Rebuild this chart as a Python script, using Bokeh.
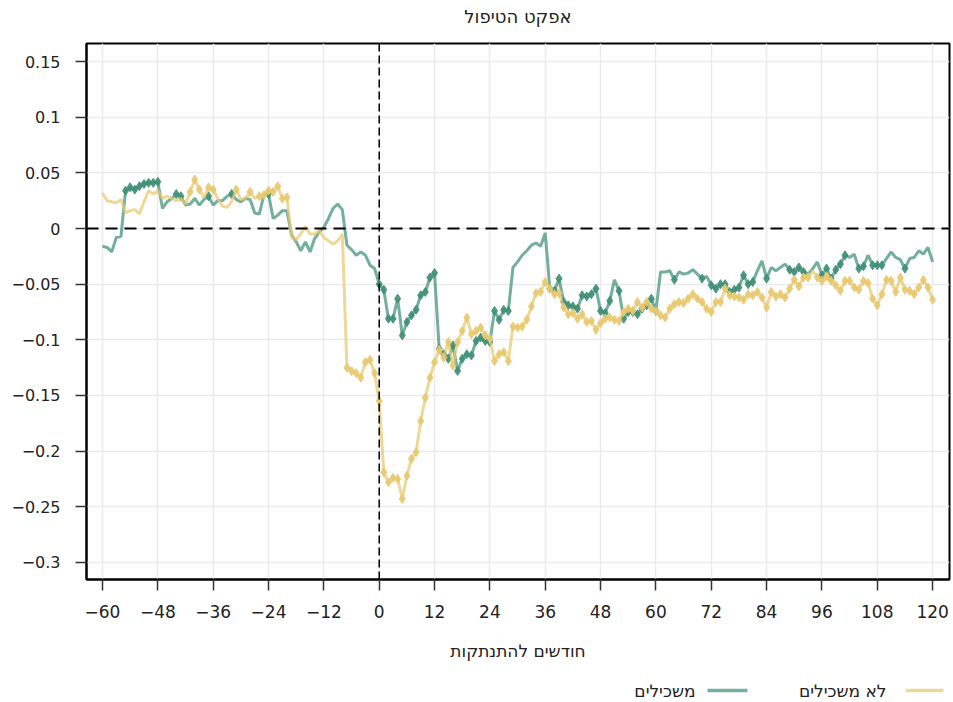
from bokeh.plotting import figure
from bokeh.models import Range1d, FixedTicker, Span, Label
from bokeh.layouts import column
from bokeh.embed import file_html
from bokeh.resources import INLINE

# ---------------- data ----------------
months = list(range(-60, 121))

# משכילים (educated)
educated = [
    -0.016, -0.017, -0.021, -0.008, -0.007, 0.034, 0.037, 0.035, 0.038, 0.040,   # -60..-51
    0.041, 0.041, 0.042, 0.018, 0.024, 0.027, 0.031, 0.029, 0.021, 0.022,        # -50..-41
    0.027, 0.021, 0.026, 0.029, 0.021, 0.025, 0.025, 0.029, 0.031, 0.026,        # -40..-31
    0.024, 0.027, 0.026, 0.014, 0.013, 0.030, 0.031, 0.009, 0.012, 0.016,        # -30..-21
    0.016, -0.006, -0.012, -0.020, -0.012, -0.021, -0.009, -0.003, 0.001, 0.009, # -20..-11
    0.018, 0.022, 0.017, -0.015, -0.019, -0.024, -0.021, -0.024, -0.033, -0.036, # -10..-1
    -0.050, -0.055, -0.081, -0.081, -0.063, -0.096, -0.084, -0.078, -0.073, -0.060,  # 0..9
    -0.057, -0.044, -0.040, -0.108, -0.113, -0.117, -0.105, -0.128, -0.117, -0.113,  # 10..19
    -0.114, -0.101, -0.098, -0.101, -0.102, -0.074, -0.082, -0.073, -0.074, -0.035,  # 20..29
    -0.030, -0.024, -0.020, -0.015, -0.013, -0.016, -0.004, -0.054, -0.056, -0.045,  # 30..39
    -0.066, -0.069, -0.070, -0.072, -0.060, -0.061, -0.059, -0.054, -0.074, -0.076,  # 40..49
    -0.065, -0.046, -0.056, -0.081, -0.075, -0.075, -0.077, -0.072, -0.069, -0.063,  # 50..59
    -0.074, -0.039, -0.039, -0.038, -0.046, -0.039, -0.041, -0.040, -0.037, -0.041,  # 60..69
    -0.045, -0.043, -0.051, -0.054, -0.050, -0.050, -0.057, -0.055, -0.053, -0.042,  # 70..79
    -0.050, -0.048, -0.038, -0.029, -0.045, -0.035, -0.038, -0.035, -0.032, -0.037,  # 80..89
    -0.039, -0.035, -0.039, -0.041, -0.036, -0.030, -0.042, -0.036, -0.045, -0.037,  # 90..99
    -0.032, -0.024, -0.026, -0.023, -0.036, -0.034, -0.024, -0.033, -0.033, -0.033,  # 100..109
    -0.027, -0.021, -0.026, -0.028, -0.036, -0.027, -0.026, -0.020, -0.023, -0.017,  # 110..119
    -0.030,                                                                          # 120
]

# לא משכילים (not educated)
not_educated = [
    0.032, 0.025, 0.024, 0.023, 0.026, 0.014, 0.016, 0.017, 0.013, 0.024,        # -60..-51
    0.034, 0.031, 0.034, 0.027, 0.029, 0.027, 0.025, 0.027, 0.022, 0.033,        # -50..-41
    0.044, 0.035, 0.028, 0.037, 0.035, 0.027, 0.020, 0.019, 0.024, 0.035,        # -40..-31
    0.026, 0.027, 0.033, 0.027, 0.029, 0.030, 0.034, 0.033, 0.038, 0.027,        # -30..-21
    0.028, -0.008, -0.010, -0.005, 0.002, -0.005, -0.005, -0.002, -0.008, -0.011,  # -20..-11
    -0.014, -0.011, -0.005, -0.125, -0.128, -0.130, -0.134, -0.120, -0.118, -0.130,  # -10..-1
    -0.155, -0.219, -0.228, -0.224, -0.225, -0.243, -0.222, -0.207, -0.201, -0.173,  # 0..9
    -0.152, -0.134, -0.120, -0.109, -0.116, -0.102, -0.123, -0.102, -0.092, -0.080,  # 10..19
    -0.095, -0.092, -0.089, -0.096, -0.099, -0.119, -0.113, -0.111, -0.119, -0.088,  # 20..29
    -0.089, -0.088, -0.082, -0.070, -0.058, -0.057, -0.048, -0.054, -0.059, -0.058,  # 30..39
    -0.071, -0.077, -0.076, -0.081, -0.077, -0.084, -0.083, -0.091, -0.085, -0.081,  # 40..49
    -0.080, -0.082, -0.083, -0.075, -0.072, -0.074, -0.066, -0.071, -0.066, -0.072,  # 50..59
    -0.074, -0.078, -0.080, -0.072, -0.068, -0.066, -0.067, -0.063, -0.059, -0.063,  # 60..69
    -0.066, -0.072, -0.075, -0.066, -0.066, -0.054, -0.060, -0.061, -0.062, -0.064,  # 70..79
    -0.059, -0.060, -0.057, -0.062, -0.071, -0.057, -0.061, -0.059, -0.062, -0.054,  # 80..89
    -0.046, -0.052, -0.044, -0.044, -0.038, -0.044, -0.047, -0.043, -0.047, -0.051,  # 90..99
    -0.056, -0.047, -0.047, -0.053, -0.055, -0.047, -0.049, -0.063, -0.069, -0.059,  # 100..109
    -0.046, -0.047, -0.057, -0.044, -0.055, -0.056, -0.059, -0.053, -0.046, -0.053,  # 110..119
    -0.064,                                                                          # 120
]

# months whose estimate carries a significance marker
educated_sig_months = [
    -55, -54, -53, -52, -51, -50, -49, -48, -44, -43, -37, -32, -24,
    0, 1, 2, 3, 4, 5, 6, 7, 8, 9, 10, 11, 12, 13, 14, 15, 16, 17, 18, 19, 20,
    21, 22, 23, 24, 25, 26, 27, 28,
    37, 38, 39, 40, 41, 42, 43, 44, 45, 46, 47, 48, 49, 50,
    52, 53, 54, 55, 56, 57, 58, 59, 60, 64, 70,
    72, 73, 74, 75, 76, 77, 78, 79, 80, 81, 84, 89, 90, 91, 92,
    96, 97, 98, 99, 100, 101, 104, 105, 107, 108, 109, 114,
]
not_educated_sig_months = [
    -41, -40, -39, -37, -36, -31, -28, -26, -25, -24, -23, -22, -21, -20,
    -7, -6, -5, -4, -3, -2, -1, 0, 1, 2, 3, 4, 5, 6, 7, 8, 9, 10, 11, 12,
    13, 14, 15, 16, 17, 18, 19, 20, 21, 22, 23, 24, 25, 26, 27, 28, 29, 30,
    31, 32, 33, 34, 35, 36, 37, 38, 39, 40, 41, 42, 43, 44, 45, 46, 47, 48,
    49, 50, 51, 52, 53, 54, 55, 56, 57, 58, 59, 60, 61, 62, 63, 64, 65, 66,
    67, 68, 69, 70, 71, 72, 73, 74, 75, 76, 77, 78, 79, 80, 81, 82, 83, 84,
    85, 86, 87, 88, 89, 90, 91, 92, 93, 95, 96, 97, 98, 99, 100, 101, 102,
    103, 104, 105, 106, 107, 108, 109, 110, 111, 112, 113, 114, 115, 116,
    117, 118, 119, 120,
]

x_ticks = [-60, -48, -36, -24, -12, 0, 12, 24, 36, 48, 60, 72, 84, 96, 108, 120]
x_tick_labels = ["\u221260", "\u221248", "\u221236", "\u221224", "\u221212", "0", "12", "24",
                 "36", "48", "60", "72", "84", "96", "108", "120"]
y_ticks = [0.15, 0.1, 0.05, 0, -0.05, -0.1, -0.15, -0.2, -0.25, -0.3]
y_tick_labels = ["0.15", "0.1", "0.05", "0", "\u22120.05", "\u22120.1", "\u22120.15",
                 "\u22120.2", "\u22120.25", "\u22120.3"]

title_text = "אפקט הטיפול"
x_label = "חודשים להתנתקות"
label_not_educated = "לא משכילים"
label_educated = "משכילים"

# ---------------- style ----------------
FONT = "DejaVu Sans"
GREEN = "#3f8f76"
YELLOW = "#e8c970"
TEXT = "#222222"
W = 951
FRAME_LEFT, FRAME_RIGHT = 86, 949   # the column aligns the strips' frames with the chart frame


def strip(height):
    fig = figure(width=W, height=height,
                 x_range=Range1d(FRAME_LEFT, FRAME_RIGHT), y_range=Range1d(0, height),
                 x_axis_location=None, y_axis_location=None,
                 output_backend="svg", toolbar_location=None, min_border=0)
    fig.grid.visible = False
    fig.outline_line_color = None
    fig.background_fill_color = "white"
    fig.border_fill_color = "white"
    return fig


# ---------------- title strip ----------------
tt = strip(30)
tt.add_layout(Label(x=517.5, y=14, text=title_text, text_align="center",
                    text_baseline="middle", text_font=FONT, text_font_size="18px",
                    text_color=TEXT))

# ---------------- main chart ----------------
p = figure(width=W, height=638,
           x_range=Range1d(-63.47, 123.66), y_range=Range1d(-0.3153, 0.1662),
           output_backend="svg", toolbar_location=None,
           min_border_left=86, min_border_right=2, min_border_top=13, min_border_bottom=89)
p.background_fill_color = "white"
p.border_fill_color = "white"
p.outline_line_color = "black"
p.outline_line_width = 2

p.xaxis.ticker = FixedTicker(ticks=x_ticks)
p.yaxis.ticker = FixedTicker(ticks=y_ticks)
p.xaxis.major_label_overrides = dict(zip(x_ticks, x_tick_labels))
p.yaxis.major_label_overrides = dict(zip(y_ticks, y_tick_labels))
for ax in (p.xaxis, p.yaxis):
    ax.axis_line_color = "black"
    ax.axis_line_width = 2
    ax.major_tick_out = 11
    ax.major_tick_in = 0
    ax.major_tick_line_color = "#333333"
    ax.major_tick_line_width = 1.5
    ax.minor_tick_line_color = None
    ax.major_label_text_font = FONT
    ax.major_label_text_color = TEXT
p.yaxis.major_label_text_font_size = "16px"
p.xaxis.major_label_text_font_size = "17px"
p.yaxis.major_label_standoff = 15
p.xaxis.major_label_standoff = 14
p.xaxis.axis_label = x_label
p.xaxis.axis_label_text_font = FONT
p.xaxis.axis_label_text_font_size = "17px"
p.xaxis.axis_label_text_font_style = "normal"
p.xaxis.axis_label_text_color = TEXT
p.xaxis.axis_label_standoff = 20

p.xgrid.grid_line_color = "#ebebeb"
p.ygrid.grid_line_color = "#ebebeb"
p.xgrid.grid_line_width = 1.5
p.ygrid.grid_line_width = 1.5

p.add_layout(Span(location=0, dimension="width", line_color="black",
                  line_width=2, line_dash="12 7"))
p.add_layout(Span(location=0, dimension="height", line_color="black",
                  line_width=1.5, line_dash="8 4"))

edu_lookup = dict(zip(months, educated))
ned_lookup = dict(zip(months, not_educated))

p.line(months, educated, line_color=GREEN, line_width=3, line_alpha=0.72)
p.scatter(educated_sig_months, [edu_lookup[m] for m in educated_sig_months],
          marker="diamond", size=9, fill_color=GREEN, line_color=GREEN, alpha=0.9)
p.line(months, not_educated, line_color=YELLOW, line_width=3, line_alpha=0.72)
p.scatter(not_educated_sig_months, [ned_lookup[m] for m in not_educated_sig_months],
          marker="diamond", size=9, fill_color=YELLOW, line_color=YELLOW, alpha=0.9)

# ---------------- legend (right-to-left, below the chart) ----------------
lg = strip(32)
lg.segment(x0=[905, 707], x1=[943, 747], y0=[10, 10], y1=[10, 10],
           line_color=[YELLOW, GREEN], line_width=3.5, line_alpha=0.72)
for lx, txt in ((886, label_not_educated), (695, label_educated)):
    lg.add_layout(Label(x=lx, y=10, text=txt, text_align="right", text_baseline="middle",
                        text_font=FONT, text_font_size="17px", text_color=TEXT))

layout = column(tt, p, lg, spacing=0)
open("out.html", "w").write(file_html(layout, INLINE))
